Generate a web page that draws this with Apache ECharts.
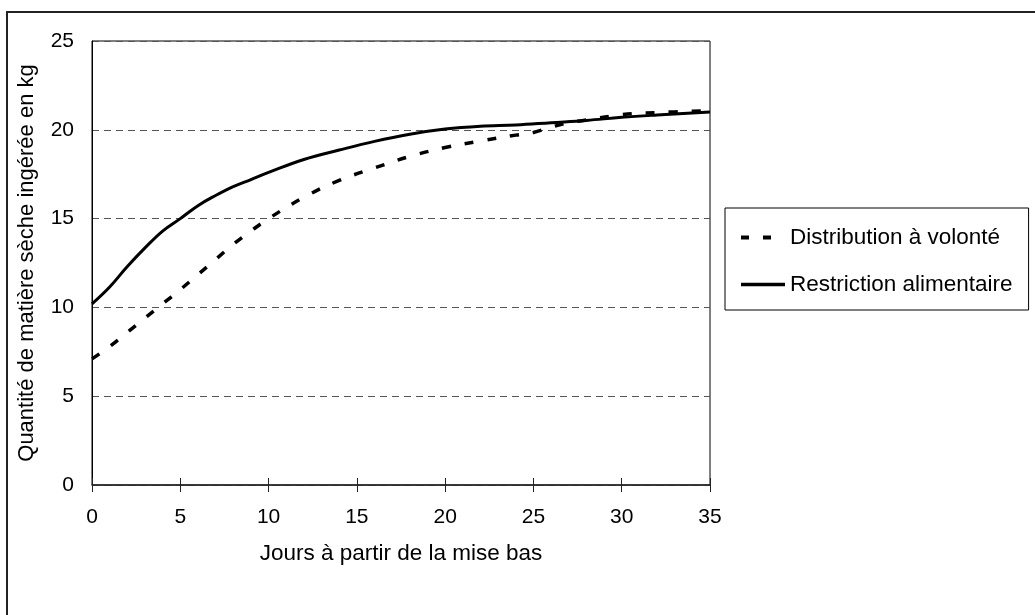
<!DOCTYPE html>
<html>
<head>
<meta charset="utf-8">
<script src="https://cdn.jsdelivr.net/npm/echarts@6/dist/echarts.min.js"></script>
<style>
html,body{margin:0;padding:0;background:#fff;}
#chart{width:1035px;height:615px;}
</style>
</head>
<body>
<div id="chart"></div>
<script>
const seriesNames = ['Distribution à volonté', 'Restriction alimentaire'];
const xTitle = 'Jours à partir de la mise bas';
const yTitle = 'Quantité de matière sèche ingérée en kg';

const daysVolonte = [0, 1, 2, 3, 4, 5, 6, 7, 8, 9, 10, 12, 14, 16, 18, 20, 22, 24, 25, 26, 27, 28, 30, 32, 35];
const valuesVolonte = [7.1, 7.8, 8.6, 9.4, 10.2, 11.0, 11.85, 12.7, 13.55, 14.3, 15.0, 16.2, 17.15, 17.85, 18.5, 19.0, 19.37, 19.7, 19.85, 20.15, 20.4, 20.55, 20.85, 20.97, 21.07];

const daysRestriction = [0, 1, 2, 3, 4, 5, 6, 7, 8, 9, 10, 12, 14, 16, 18, 20, 22, 24, 26, 28, 30, 32, 35];
const valuesRestriction = [10.2, 11.15, 12.3, 13.35, 14.3, 15.0, 15.73, 16.3, 16.8, 17.2, 17.6, 18.33, 18.86, 19.35, 19.75, 20.04, 20.2, 20.27, 20.4, 20.53, 20.7, 20.83, 21.0];

const FONT = 'Liberation Sans';
const FS_TICK = 21;
const FS_TEXT = 22.5;

function pairs(xs, ys) { return xs.map((x, i) => [x, ys[i]]); }

const chart = echarts.init(document.getElementById('chart'), null, {renderer: 'canvas'});
chart.setOption({
  animation: false,
  backgroundColor: '#fff',
  textStyle: {fontFamily: FONT, color: '#000'},
  graphic: [{
    type: 'rect',
    shape: {x: 7, y: 12, width: 1100, height: 700},
    style: {fill: 'none', stroke: '#222', lineWidth: 2},
    silent: true
  }],
  grid: {
    left: 92, right: 325, top: 41, bottom: 130,
    show: true, borderColor: '#000', borderWidth: 1, backgroundColor: 'transparent'
  },
  legend: {
    orient: 'vertical',
    left: 725, top: 208,
    padding: [18, 16, 14, 14],
    itemGap: 24,
    itemWidth: 44,
    itemHeight: 22,
    borderColor: '#000',
    borderWidth: 1,
    itemStyle: {opacity: 0},
    textStyle: {fontFamily: FONT, fontSize: FS_TEXT, color: '#000'},
    data: [
      {name: seriesNames[0], lineStyle: {width: 4, type: [8, 14], color: '#000'}},
      {name: seriesNames[1], lineStyle: {width: 3.5, color: '#000'}}
    ]
  },
  xAxis: [{
    type: 'value',
    min: 0, max: 35, interval: 5,
    name: xTitle,
    nameLocation: 'middle',
    nameGap: 57,
    nameTextStyle: {fontFamily: FONT, fontSize: FS_TEXT, color: '#000'},
    axisLine: {show: true, lineStyle: {color: '#222', width: 1.5}},
    axisTick: {show: true, inside: false, length: 7, lineStyle: {color: '#222', width: 1}},
    axisLabel: {fontFamily: FONT, fontSize: FS_TICK, color: '#000', margin: 22},
    splitLine: {show: false}
  }, {
    type: 'value',
    min: 0, max: 35, interval: 5,
    position: 'bottom',
    axisLine: {show: false},
    axisTick: {show: true, inside: true, length: 7, lineStyle: {color: '#222', width: 1}},
    axisLabel: {show: false},
    splitLine: {show: false}
  }],
  yAxis: {
    type: 'value',
    min: 0, max: 25, interval: 5,
    name: yTitle,
    nameLocation: 'middle',
    nameRotate: 90,
    nameGap: 54,
    nameTextStyle: {fontFamily: FONT, fontSize: 22, color: '#000'},
    axisLine: {show: true, lineStyle: {color: '#000', width: 1}},
    axisTick: {show: false},
    axisLabel: {fontFamily: FONT, fontSize: FS_TICK, color: '#000', margin: 18},
    splitLine: {show: true, lineStyle: {color: '#555', width: 1, type: [7, 5]}}
  },
  series: [{
    name: seriesNames[0],
    type: 'line',
    data: pairs(daysVolonte, valuesVolonte),
    smooth: 0.4,
    symbol: 'none',
    z: 3,
    lineStyle: {color: '#000', width: 3.5, type: [9, 14], cap: 'butt'},
    itemStyle: {color: '#000'}
  }, {
    name: seriesNames[1],
    type: 'line',
    data: pairs(daysRestriction, valuesRestriction),
    smooth: 0.4,
    symbol: 'none',
    z: 2,
    lineStyle: {color: '#000', width: 3},
    itemStyle: {color: '#000'}
  }]
});
</script>
</body>
</html>
